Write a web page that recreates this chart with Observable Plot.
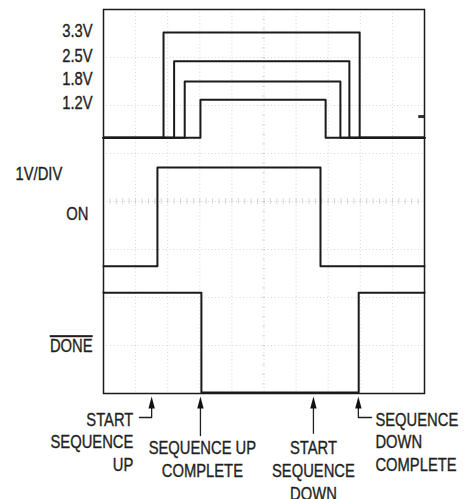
<!DOCTYPE html>
<html><head><meta charset="utf-8">
<script src="https://cdn.jsdelivr.net/npm/d3@7"></script>
<script src="https://cdn.jsdelivr.net/npm/@observablehq/plot@0.6"></script>
<style>
body{margin:0;background:#fff;}
#chart svg text{font-family:"Liberation Sans",Arial,sans-serif;fill:#231f20;stroke:#231f20;stroke-width:0.35px;}
</style></head><body><div id="chart"></div>
<script>
// Horizontal unit: scope divisions (10 across); vertical unit: divisions (8 up), 1V/DIV
const railNames = ["3.3V", "2.5V", "1.8V", "1.2V"];
const railHigh  = [7.52, 6.92, 6.50, 6.12];
const railRise  = [1.87, 2.20, 2.53, 3.02];
const railFall  = [7.98, 7.66, 7.38, 6.92];
const railLow   = 5.33;
const railLabelY = [7.54, 7.02, 6.54, 6.04];

const onLow = 2.65, onHigh = 4.71, onRise = 1.68, onFall = 6.76;
const doneHigh = 2.10, doneLow = 0.02, doneFall = 3.05, doneRise = 7.95;

const sideLabels = ["1V/DIV", "ON", "DONE"];
const sideLabelX = [-2.74, -0.47, -0.34];
const sideLabelY = [4.56, 3.73, 0.98];
const sideAnchor = ["start", "end", "end"];

const eventX = [1.50, 3.02, 6.54, 7.94];
const eventStemEnd = [-0.50, -0.875, -0.83, -0.50];
const eventElbowX = [1.12, null, null, 8.35];

const eventLines = [
  ["START", "SEQUENCE", "UP"],
  ["SEQUENCE UP", "COMPLETE"],
  ["START", "SEQUENCE", "DOWN"],
  ["SEQUENCE", "DOWN", "COMPLETE"]
];
const eventTextX = [0.93, 3.08, 6.54, 8.47];
const eventTextY0 = [-0.55, -1.15, -1.15, -0.55];
const eventAnchor = ["end", "middle", "middle", "start"];
const lineStep = 0.47;

// Build traces
const traces = [];
railNames.forEach((n, i) => {
  [[0, railLow], [railRise[i], railLow], [railRise[i], railHigh[i]], [railFall[i], railHigh[i]], [railFall[i], railLow], [10, railLow]]
    .forEach(([x, y]) => traces.push({name: n, x, y}));
});
[[0, onLow], [onRise, onLow], [onRise, onHigh], [onFall, onHigh], [onFall, onLow], [10, onLow]]
  .forEach(([x, y]) => traces.push({name: "ON", x, y}));
[[0, doneHigh], [doneFall, doneHigh], [doneFall, doneLow], [doneRise, doneLow], [doneRise, doneHigh], [10, doneHigh]]
  .forEach(([x, y]) => traces.push({name: "DONE", x, y}));

const stems = [];
eventX.forEach((x, i) => {
  stems.push({k: i, x, y: -0.30});
  stems.push({k: i, x, y: eventStemEnd[i]});
  if (eventElbowX[i] != null) stems.push({k: i, x: eventElbowX[i], y: eventStemEnd[i]});
});

const texts = [];
eventLines.forEach((lines, i) => lines.forEach((t, j) =>
  texts.push({t, x: eventTextX[i], y: eventTextY0[i] - j * lineStep, a: eventAnchor[i]})));
const sides = sideLabels.map((t, i) => ({t, x: sideLabelX[i], y: sideLabelY[i], a: sideAnchor[i]}));
const labelItems = [...sides, ...texts];

const gridX = d3.range(1, 10);
const gridY = d3.range(1, 8);
const minorX = d3.range(0.2, 10, 0.2);
const minorY = d3.range(0.2, 8, 0.2);

const spike = {draw(ctx, l, r) { ctx.moveTo(-r, 0); ctx.lineTo(0, -l); ctx.lineTo(r, 0); ctx.closePath(); }};

const FS = 18;
const textMarks = ["start", "middle", "end"].map(a =>
  Plot.text(labelItems.filter(d => d.a === a), {x: "x", y: "y", text: "t", textAnchor: a, fontSize: FS}));

const chart = Plot.plot({
  width: 469, height: 499,
  marginLeft: 103, marginRight: 45, marginTop: 9, marginBottom: 106,
  x: {domain: [0, 10], axis: null},
  y: {domain: [0, 8], axis: null},
  style: {background: "#fff"},
  marks: [
    Plot.ruleX(gridX, {stroke: "#bbb", strokeDasharray: "1,2.5", strokeOpacity: 0.6}),
    Plot.ruleY(gridY, {stroke: "#bbb", strokeDasharray: "1,2.5", strokeOpacity: 0.6}),
    Plot.ruleX(minorX, {x: d => d, y1: 3.94, y2: 4.06, stroke: "#bbb", strokeOpacity: 0.6}),
    Plot.ruleY(minorY, {y: d => d, x1: 4.96, x2: 5.04, stroke: "#bbb", strokeOpacity: 0.6}),
    Plot.line(traces, {x: "x", y: "y", z: "name", stroke: "#1a1a1a", strokeWidth: 2, curve: "linear"}),
    Plot.ruleY([5.77], {x1: 9.82, x2: 10, stroke: "#333", strokeWidth: 3}),
    Plot.frame({stroke: "#1a1a1a", strokeWidth: 1.5}),
    Plot.text(railNames, {x: -0.34, y: (d, i) => railLabelY[i], text: d => d, textAnchor: "end", fontSize: FS}),
    ...textMarks,
    Plot.line(stems, {x: "x", y: "y", z: "k", stroke: "#231f20", strokeWidth: 1.3}),
    Plot.vector(eventX, {x: d => d, y: -0.31, length: 12, r: 3.2, rotate: 0, anchor: "start", shape: spike, fill: "#111", stroke: "none"})
  ]
});
document.getElementById("chart").appendChild(chart);
const svg = d3.select(chart);
svg.selectAll("text").each(function() {
  const w = this.getComputedTextLength();
  if (w > 0) {
    this.setAttribute("textLength", (w * 0.82).toFixed(2));
    this.setAttribute("lengthAdjust", "spacingAndGlyphs");
  }
});
svg.selectAll("text").filter(function() { return this.textContent === "DONE"; })
  .style("text-decoration", "overline");
</script></body></html>
